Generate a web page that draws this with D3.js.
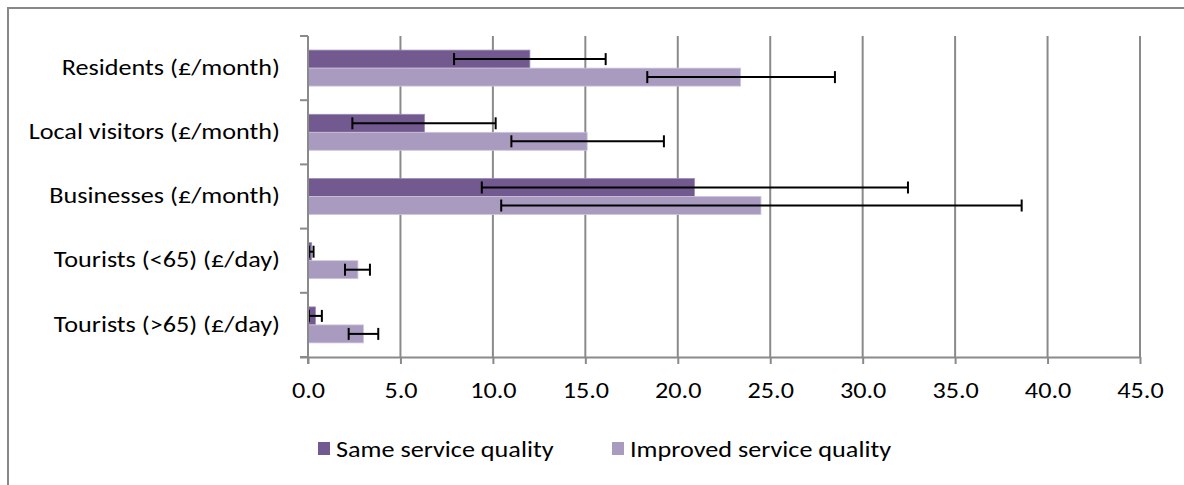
<!DOCTYPE html>
<html>
<head>
<meta charset="utf-8">
<script src="https://cdn.jsdelivr.net/npm/d3@7"></script>
<style>
  body { margin: 0; background: #fff; }
  svg text { font-family: Carlito, Lato, "Open Sans", sans-serif; fill: #000; }
</style>
</head>
<body>
<div id="chart"></div>
<script>
// data
const categories = ["Residents (£/month)", "Local visitors (£/month)", "Businesses (£/month)",
                    "Tourists (<65) (£/day)", "Tourists (>65) (£/day)"];
const seriesNames = ["Same service quality", "Improved service quality"];
const sameValues = [12.0, 6.3, 20.9, 0.2, 0.4];
const sameLow = [7.9, 2.4, 9.4, 0.05, 0.05];
const sameHigh = [16.1, 10.15, 32.45, 0.3, 0.75];
const improvedValues = [23.4, 15.1, 24.5, 2.7, 3.0];
const improvedLow = [18.35, 11.0, 10.45, 2.0, 2.2];
const improvedHigh = [28.5, 19.25, 38.6, 3.35, 3.8];
const xTicks = [0, 5, 10, 15, 20, 25, 30, 35, 40, 45];

const width = 1184, height = 485;
const margin = {top: 36, left: 308, right: 1140, bottom: 357};
const colors = ["#725990", "#a89bbf"];
const fontSize = "22px", stretch = "scale(1.19,1)";

const svg = d3.select("#chart").append("svg")
  .attr("width", width)
  .attr("height", height);

// chart frame (runs off the bottom/right of the picture)
svg.append("rect")
  .attr("x", 8).attr("y", 8)
  .attr("width", 1300).attr("height", 600)
  .attr("fill", "#fff")
  .attr("stroke", "#888").attr("stroke-width", 2);

const xScale = d3.scaleLinear().domain([0, 45]).range([margin.left, margin.right]);
const yScale = d3.scaleBand().domain(categories).range([margin.top, margin.bottom]);
const barH = 18;

// gridlines
svg.append("g")
  .selectAll("line")
  .data(xTicks.slice(1))
  .join("line")
    .attr("x1", d => xScale(d)).attr("x2", d => xScale(d))
    .attr("y1", margin.top).attr("y2", margin.bottom)
    .attr("stroke", "#8a8a8a").attr("stroke-width", 2);

// bars
const rows = categories.map((c, i) => ({
  cat: c,
  vals: [
    {v: sameValues[i], lo: sameLow[i], hi: sameHigh[i], s: 0},
    {v: improvedValues[i], lo: improvedLow[i], hi: improvedHigh[i], s: 1}
  ]
}));

const groups = svg.append("g").selectAll("g")
  .data(rows)
  .join("g")
    .attr("transform", d => `translate(0,${yScale(d.cat) + yScale.bandwidth() / 2 - barH})`);

groups.selectAll("rect")
  .data(d => d.vals)
  .join("rect")
    .attr("x", xScale(0))
    .attr("y", d => d.s * barH)
    .attr("width", d => xScale(d.v) - xScale(0))
    .attr("height", barH)
    .attr("fill", d => colors[d.s])
    .attr("stroke", d => d.s === 0 ? "#9d8cb3" : "#cfc6dc")
    .attr("stroke-width", 0.8);

// error bars
const err = groups.selectAll("g.err")
  .data(d => d.vals)
  .join("g")
    .attr("class", "err")
    .attr("stroke", "#000").attr("stroke-width", 2)
    .attr("transform", d => `translate(0,${d.s * barH + barH / 2})`);

err.append("line")
  .attr("x1", d => xScale(d.lo)).attr("x2", d => xScale(d.hi));
err.append("line")
  .attr("x1", d => xScale(d.lo)).attr("x2", d => xScale(d.lo))
  .attr("y1", -6).attr("y2", 6);
err.append("line")
  .attr("x1", d => xScale(d.hi)).attr("x2", d => xScale(d.hi))
  .attr("y1", -6).attr("y2", 6);

// x axis
const xAxis = d3.axisBottom(xScale)
  .tickValues(xTicks)
  .tickFormat(d3.format(".1f"))
  .tickSize(7)
  .tickPadding(18);

const xAxisGroup = svg.append("g")
  .attr("transform", `translate(0,${margin.bottom})`)
  .call(xAxis);
xAxisGroup.attr("font-family", null).attr("font-size", null);
xAxisGroup.select(".domain").attr("d", `M${margin.left - 8},0.5H${margin.right}`);
xAxisGroup.selectAll(".domain, .tick line").attr("stroke", "#8a8a8a").attr("stroke-width", 2);
xAxisGroup.selectAll("text")
  .style("font-size", fontSize)
  .attr("fill", "#000")
  .attr("transform", stretch);

// y axis
const yTickPos = d3.range(categories.length + 1).map(i => margin.top + i * yScale.step());
const yAxisGroup = svg.append("g").attr("stroke", "#8a8a8a").attr("stroke-width", 2);
yAxisGroup.append("line")
  .attr("x1", margin.left).attr("x2", margin.left)
  .attr("y1", margin.top).attr("y2", margin.bottom + 7);
yAxisGroup.selectAll("line.tick")
  .data(yTickPos)
  .join("line")
    .attr("class", "tick")
    .attr("x1", margin.left - 8).attr("x2", margin.left)
    .attr("y1", d => d).attr("y2", d => d);

svg.append("g").selectAll("text")
  .data(categories)
  .join("text")
    .attr("transform", d => `translate(${margin.left - 28},${yScale(d) + yScale.bandwidth() / 2 - 1}) ${stretch}`)
    .attr("dy", "0.35em")
    .attr("text-anchor", "end")
    .style("font-size", fontSize)
    .text(d => d);

// legend
const legend = svg.append("g").attr("transform", "translate(318,442)");
const legendX = [0, 294];
const items = legend.selectAll("g")
  .data(seriesNames)
  .join("g")
    .attr("transform", (d, i) => `translate(${legendX[i]},0)`);
items.append("rect")
  .attr("width", 12).attr("height", 13)
  .attr("fill", (d, i) => colors[i]);
items.append("text")
  .attr("transform", `translate(18,7) ${stretch}`)
  .attr("dy", "0.35em")
  .style("font-size", fontSize)
  .text(d => d);
</script>
</body>
</html>
